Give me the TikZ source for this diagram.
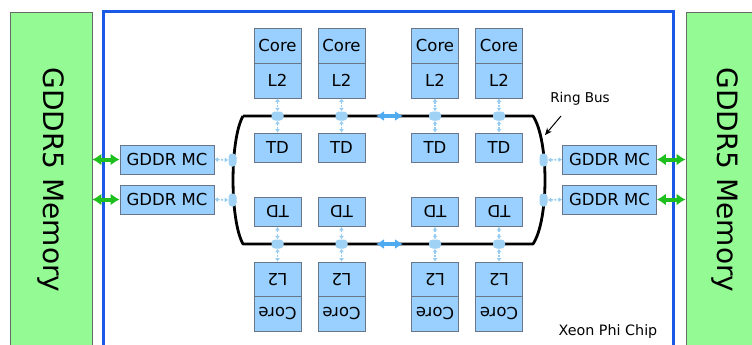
\documentclass[tikz,border=0pt]{standalone}
\usepackage{fontspec}
\setmainfont{DejaVu Sans}
\usetikzlibrary{arrows.meta}
\definecolor{boxblue}{RGB}{153,208,255}
\definecolor{boxedge}{RGB}{105,118,135}
\definecolor{memgreen}{RGB}{148,250,148}
\definecolor{memedge}{RGB}{100,110,100}
\definecolor{chipblue}{RGB}{26,90,230}
\definecolor{linkblue}{RGB}{150,205,240}
\definecolor{stopblue}{RGB}{160,210,245}
\definecolor{busblue}{RGB}{80,170,240}
\definecolor{arrowgreen}{RGB}{30,190,30}
\begin{document}
\begin{tikzpicture}[x=1pt,y=-1pt,
  unit/.style={draw=boxedge, fill=boxblue, minimum width=47pt, minimum height=35pt, inner sep=0pt, line width=0.8pt, font=\fontsize{16.5}{16.5}\selectfont},
  tdbox/.style={unit, minimum height=29pt},
  mcbox/.style={unit, minimum width=94pt, minimum height=29pt},
  memrect/.style={draw=memedge, fill=memgreen, line width=0.8pt, minimum width=82pt, minimum height=345pt, inner sep=0pt},
  memtext/.style={rotate=-90, font=\fontsize{28}{28}\selectfont, inner sep=0pt},
  hstop/.style={fill=stopblue, rounded corners=3.5pt, minimum width=12pt, minimum height=9pt, inner sep=0pt},
  vstop/.style={fill=stopblue, rounded corners=3.5pt, minimum width=8pt, minimum height=13pt, inner sep=0pt},
  link/.style={draw=linkblue, line width=1.6pt, dash pattern=on 2pt off 1.5pt, {Latex[length=3.5pt,width=5pt]}-{Latex[length=3.5pt,width=5pt]}},
  busarrow/.style={draw=busblue, line width=3.5pt, {Latex[length=8pt,width=10pt]}-{Latex[length=8pt,width=10pt]}},
  memarrow/.style={draw=arrowgreen, line width=4pt, {Latex[length=9pt,width=12pt]}-{Latex[length=9pt,width=12pt]}},
  ring/.style={draw=black, line width=2.8pt, line join=round}
]
\useasboundingbox (0,0) rectangle (752,345);
\clip (0,0) rectangle (752,345);
\fill[white] (0,0) rectangle (752,345);

% memories
\node[memrect] (memL) at (51,184.5) {};
\node[memtext] (memLt) at (50.5,180) {GDDR5 Memory};
\node[memrect] (memR) at (727,184.5) {};
\node[memtext] (memRt) at (725,180) {GDDR5 Memory};

% chip frame
\draw[chipblue, line width=3pt] (103,12) rectangle (673,370);

% ring
\draw[ring] (243,116) -- (533,116) .. controls (549,140) and (549,220) .. (533,244) -- (243,244) .. controls (229.7,220) and (229.7,140) .. (243,116);

% cores
\foreach \i/\x in {1/277.5,2/341.5,3/435,4/499}{
  \node[unit] (core\i) at (\x,45.5) {Core};
  \node[unit] (ltwo\i) at (\x,80.5) {L2};
  \node[tdbox] (td\i) at (\x,147.5) {TD};
  \node[hstop] (t\i) at (\x,116) {};
  \draw[link] (ltwo\i.south) -- (t\i.north);
  \draw[link] (t\i.south) -- (td\i.north);
  \node[tdbox, rotate=180] (tdb\i) at (\x,212) {TD};
  \node[unit, rotate=180] (ltwob\i) at (\x,279.5) {L2};
  \node[unit, rotate=180] (coreb\i) at (\x,314) {Core};
  \node[hstop] (b\i) at (\x,244) {};
  \draw[link] (tdb\i.north) -- (b\i.north);
  \draw[link] (b\i.south) -- (ltwob\i.south);
}

% bus arrows
\coordinate (busTa) at (376,116);
\coordinate (busTb) at (403,116);
\draw[busarrow] (busTa) -- (busTb);
\coordinate (busBa) at (376,244);
\coordinate (busBb) at (403,244);
\draw[busarrow] (busBa) -- (busBb);

% memory controllers
\node[mcbox] (mcL1) at (167,159.5) {GDDR MC};
\node[mcbox] (mcL2) at (167,199.5) {GDDR MC};
\node[mcbox] (mcR1) at (609.5,159.5) {GDDR MC};
\node[mcbox] (mcR2) at (609.5,199.5) {GDDR MC};
\node[vstop] (l1) at (232.5,160) {};
\node[vstop] (l2) at (232.5,200) {};
\node[vstop] (r1) at (543.5,160) {};
\node[vstop] (r2) at (543.5,200) {};
\draw[link] (mcL1.east) -- (l1.west);
\draw[link] (mcL2.east) -- (l2.west);
\draw[link] (r1.east) -- (mcR1.west);
\draw[link] (r2.east) -- (mcR2.west);

% memory links
\draw[memarrow] (memL.east |- mcL1.west) -- (mcL1.west);
\draw[memarrow] (memL.east |- mcL2.west) -- (mcL2.west);
\draw[memarrow] (mcR1.east) -- (memR.west |- mcR1.east);
\draw[memarrow] (mcR2.east) -- (memR.west |- mcR2.east);

% labels
\node[font=\fontsize{13.5}{13.5}\selectfont, inner sep=0pt] (ringlbl) at (580,99) {Ring Bus};
\coordinate (ringfrom) at (561,116);
\coordinate (ringto) at (545,135);
\draw[line width=1pt, -{Stealth[length=7pt,width=6pt]}] (ringfrom) -- (ringto);
\node[font=\fontsize{14.3}{14.3}\selectfont, inner sep=0pt] (chiplbl) at (608,332) {Xeon Phi Chip};
\end{tikzpicture}
\end{document}
